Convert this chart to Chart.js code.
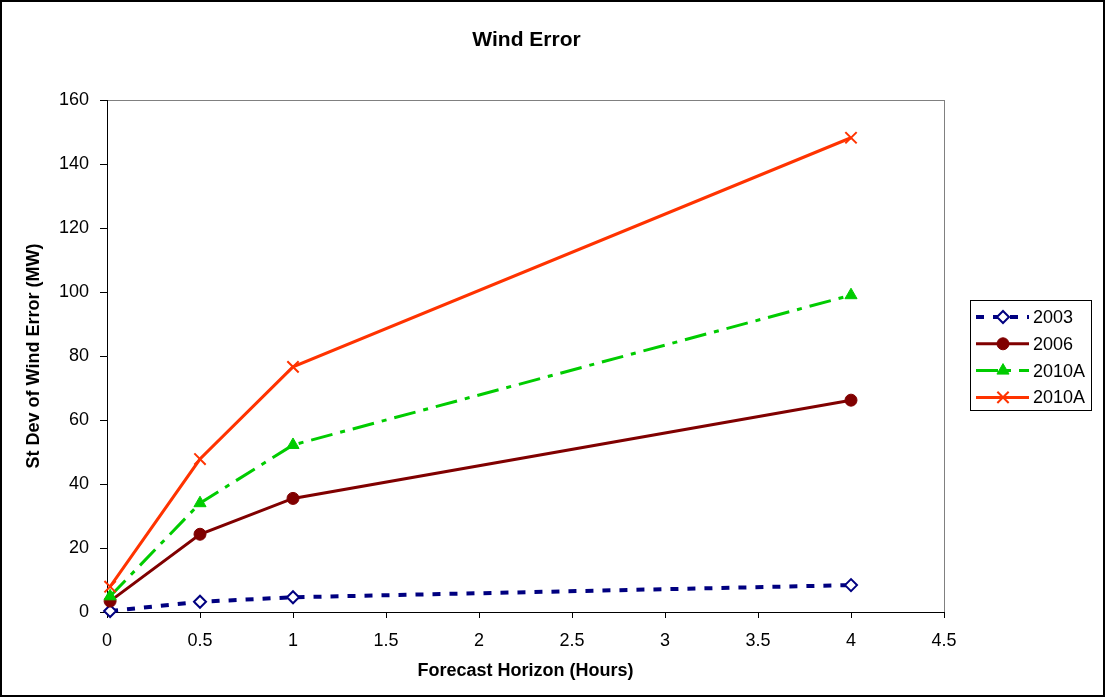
<!DOCTYPE html>
<html>
<head>
<meta charset="utf-8">
<script src="https://cdn.jsdelivr.net/npm/chart.js@4/dist/chart.umd.min.js"></script>
<style>
  html, body { margin: 0; padding: 0; background: #fff; }
  #wrap { width: 1106px; height: 698px; }
</style>
</head>
<body>
<div id="wrap"><canvas id="myChart" width="1106" height="698"></canvas></div>
<script>
// forecast horizon in hours (first point is one minute ahead)
const hours = [0.0167, 0.5, 1, 4];
// st dev of wind error (MW)
const err2003 = [0.3, 3.2, 4.6, 8.4];
const err2006 = [3.4, 24.3, 35.5, 66.2];
const err2010A = [4.9, 34, 52.2, 99];
const err2010B = [7.9, 47.8, 76.6, 148.2];
const seriesNames = ['2003', '2006', '2010A', '2010A'];
const xTicks = [0, 0.5, 1, 1.5, 2, 2.5, 3, 3.5, 4, 4.5];
const yTicks = [0, 20, 40, 60, 80, 100, 120, 140, 160];

const FONT = '"Liberation Sans", Arial, sans-serif';
const toPoints = vals => vals.map((v, i) => ({x: hours[i], y: v}));

// outer frame, grey plot border, title and boxed legend
const decor = {
  id: 'decor',
  beforeDraw(chart) {
    const {ctx, chartArea: a} = chart;
    ctx.save();
    ctx.strokeStyle = '#808080';
    ctx.lineWidth = 1;
    ctx.strokeRect(a.left + 0.5, a.top + 0.5, a.right - a.left, a.bottom - a.top);
    ctx.restore();
  },
  afterDraw(chart) {
    const {ctx, chartArea: a} = chart;
    ctx.save();
    ctx.strokeStyle = '#000';
    ctx.lineWidth = 2;
    ctx.strokeRect(1, 1, 1103, 695);

    ctx.fillStyle = '#000';
    ctx.font = 'bold 21px ' + FONT;
    ctx.textAlign = 'center';
    ctx.textBaseline = 'alphabetic';
    ctx.fillText('Wind Error', (a.left + a.right) / 2 + 1, 46);

    // legend
    ctx.strokeStyle = '#000';
    ctx.lineWidth = 1;
    ctx.strokeRect(970.5, 300.5, 121, 110);
    chart.data.datasets.forEach((ds, i) => {
      const y = 317 + i * 26.8;
      ctx.save();
      ctx.strokeStyle = ds.borderColor;
      ctx.lineWidth = ds.borderWidth;
      ctx.setLineDash(ds.borderDash || []);
      ctx.beginPath();
      ctx.moveTo(976, y);
      ctx.lineTo(1029, y);
      ctx.stroke();
      ctx.setLineDash([]);
      ctx.fillStyle = ds.pointBackgroundColor;
      ctx.strokeStyle = ds.pointBorderColor;
      ctx.lineWidth = ds.pointBorderWidth;
      Chart.helpers.drawPoint(ctx, {
        pointStyle: ds.pointStyle, radius: ds.pointRadius, rotation: 0,
        borderWidth: ds.pointBorderWidth
      }, 1003, y);
      ctx.restore();
      ctx.fillStyle = '#000';
      ctx.font = '18px ' + FONT;
      ctx.textAlign = 'left';
      ctx.textBaseline = 'middle';
      ctx.fillText(ds.label, 1033, y + 1);
    });
    ctx.restore();
  }
};

new Chart('myChart', {
  type: 'line',
  data: {
    datasets: [
      {
        label: seriesNames[0], data: toPoints(err2003), order: 4,
        borderColor: '#000080', borderWidth: 4, borderDash: [8, 9],
        pointStyle: 'rectRot', pointRadius: 6, pointBorderWidth: 2,
        pointBorderColor: '#000080', pointBackgroundColor: '#fff'
      },
      {
        label: seriesNames[1], data: toPoints(err2006), order: 3,
        borderColor: '#800000', borderWidth: 3,
        pointStyle: 'circle', pointRadius: 6, pointBorderWidth: 1,
        pointBorderColor: '#800000', pointBackgroundColor: '#800000'
      },
      {
        label: seriesNames[2], data: toPoints(err2010A), order: 2,
        borderColor: '#00cc00', borderWidth: 3, borderDash: [22, 8, 5, 8],
        pointStyle: 'triangle', pointRadius: 7, pointBorderWidth: 1,
        pointBorderColor: '#00cc00', pointBackgroundColor: '#00cc00'
      },
      {
        label: seriesNames[3], data: toPoints(err2010B), order: 1,
        borderColor: '#ff3300', borderWidth: 3,
        pointStyle: 'crossRot', pointRadius: 8, pointBorderWidth: 2,
        pointBorderColor: '#ff3300', pointBackgroundColor: '#ff3300'
      }
    ]
  },
  options: {
    responsive: false,
    animation: false,
    clip: false,
    layout: {padding: {top: 100, right: 162, bottom: 0, left: 0}},
    plugins: {
      legend: {display: false},
      title: {display: false},
      tooltip: {enabled: false}
    },
    scales: {
      x: {
        type: 'linear', min: 0, max: 4.5,
        afterFit: s => { s.height = 86; },
        afterBuildTicks: s => { s.ticks = xTicks.map(v => ({value: v})); },
        grid: {drawOnChartArea: false, drawTicks: true, tickLength: 6, color: '#000'},
        border: {color: '#000', width: 1},
        ticks: {
          color: '#000', font: {family: FONT, size: 18}, padding: 12, maxRotation: 0,
          callback: v => String(v)
        },
        title: {
          display: true, text: 'Forecast Horizon (Hours)', color: '#000',
          font: {family: FONT, size: 18, weight: 'bold'}, padding: {bottom: 16}
        }
      },
      y: {
        min: 0, max: 160,
        afterFit: s => { s.width = 107; },
        afterBuildTicks: s => { s.ticks = yTicks.map(v => ({value: v})); },
        grid: {drawOnChartArea: false, drawTicks: true, tickLength: 7, color: '#000'},
        border: {color: '#000', width: 1},
        ticks: {
          color: '#000', font: {family: FONT, size: 18}, padding: 11,
          callback: v => String(v)
        },
        title: {
          display: true, text: 'St Dev of Wind Error (MW)', color: '#000',
          font: {family: FONT, size: 18, weight: 'bold'}, padding: {top: 23}
        }
      }
    }
  },
  plugins: [decor]
});
</script>
</body>
</html>
